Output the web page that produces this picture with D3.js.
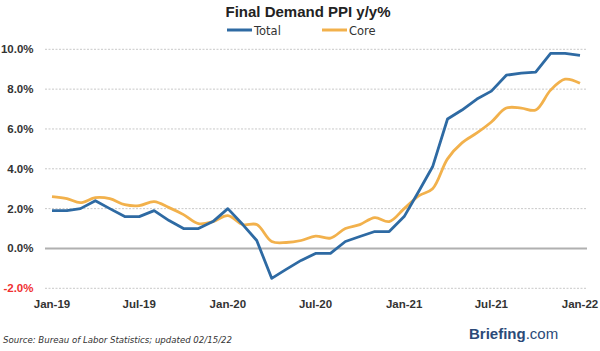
<!DOCTYPE html>
<html>
<head>
<meta charset="utf-8">
<script src="https://cdn.jsdelivr.net/npm/d3@7"></script>
<style>
  body { margin: 0; background: #fff; }
  svg { display: block; font-family: "DejaVu Sans", Verdana, sans-serif; }
</style>
</head>
<body>
<div id="chart"></div>
<script>
// monthly, Jan-19 .. Jan-22
const months = d3.range(37).map(i => new Date(2019, i, 1));
const totalValues = [1.9, 1.9, 2.0, 2.4, 2.0, 1.6, 1.6, 1.9, 1.4, 1.0, 1.0, 1.35,
  2.0, 1.2, 0.4, -1.5, -1.05, -0.6, -0.25, -0.25, 0.35, 0.6, 0.85, 0.85,
  1.6, 2.9, 4.1, 6.5, 6.95, 7.5, 7.9, 8.7, 8.8, 8.85, 9.8, 9.8, 9.7];
const coreValues = [2.6, 2.5, 2.3, 2.55, 2.5, 2.2, 2.15, 2.35, 2.05, 1.7, 1.25, 1.35,
  1.65, 1.2, 1.2, 0.35, 0.3, 0.4, 0.62, 0.52, 1.0, 1.2, 1.55, 1.35,
  2.0, 2.65, 3.0, 4.5, 5.3, 5.8, 6.35, 7.05, 7.05, 6.95, 7.95, 8.5, 8.3];
const yTicks = [-2, 0, 2, 4, 6, 8, 10];
const xTickLabels = ["Jan-19", "Jul-19", "Jan-20", "Jul-20", "Jan-21", "Jul-21", "Jan-22"];

const width = 600, height = 351;
const svg = d3.select("#chart").append("svg")
  .attr("width", width).attr("height", height);

const sans = "'Liberation Sans', Arial, sans-serif";

const x = d3.scaleTime()
  .domain([months[0], months[36]])
  .range([52, 580]);
const y = d3.scaleLinear()
  .domain([-2, 10])
  .range([288.3, 49.3]);

// title
svg.append("text")
  .attr("x", 308).attr("y", 17)
  .attr("text-anchor", "middle")
  .style("font-family", sans)
  .style("font-weight", "bold").style("font-size", "15px")
  .attr("fill", "#222")
  .text("Final Demand PPI y/y%");

// legend
const legend = [
  { name: "Total", color: "#2e6aa3", x0: 227 },
  { name: "Core", color: "#f2b14c", x0: 322 }
];
legend.forEach(l => {
  svg.append("line")
    .attr("x1", l.x0).attr("x2", l.x0 + 25)
    .attr("y1", 30).attr("y2", 30)
    .attr("stroke", l.color).attr("stroke-width", 3);
  svg.append("text")
    .attr("x", l.x0 + 27).attr("y", 34.5)
    .style("font-size", "11.5px").attr("fill", "#333")
    .text(l.name);
});

// gridlines
svg.append("g")
  .selectAll("line")
  .data(yTicks)
  .join("line")
  .attr("x1", 45).attr("x2", 587)
  .attr("y1", d => y(d)).attr("y2", d => y(d))
  .attr("stroke", d => d === 0 ? "#b0b0b0" : "#c8c8c8")
  .attr("stroke-width", d => d === 0 ? 2 : 1)
  .attr("stroke-dasharray", d => d === 0 ? null : "2,1.5");

// y axis labels
svg.append("g")
  .selectAll("text")
  .data(yTicks)
  .join("text")
  .attr("x", 33.5).attr("y", d => y(d) + 4)
  .attr("text-anchor", "end")
  .style("font-family", sans).style("font-weight", "bold")
  .style("font-size", "11.5px")
  .attr("fill", d => d < 0 ? "#f03030" : "#333")
  .text(d => d.toFixed(1) + "%");

// x axis labels
const xTicks = d3.range(0, 37, 6).map(i => months[i]);
svg.append("g")
  .selectAll("text")
  .data(xTicks)
  .join("text")
  .attr("x", d => x(d)).attr("y", 308)
  .attr("text-anchor", "middle")
  .style("font-family", sans).style("font-weight", "bold")
  .style("font-size", "11.5px").attr("fill", "#333")
  .text((d, i) => xTickLabels[i]);

// lines
const coreLine = d3.line()
  .x((d, i) => x(months[i]))
  .y(d => y(d))
  .curve(d3.curveCatmullRom.alpha(0.5));
const totalLine = d3.line()
  .x((d, i) => x(months[i]))
  .y(d => y(d));

svg.append("path")
  .attr("d", coreLine(coreValues))
  .attr("fill", "none").attr("stroke", "#f2b14c")
  .attr("stroke-width", 2.8).attr("stroke-linejoin", "round");
svg.append("path")
  .attr("d", totalLine(totalValues))
  .attr("fill", "none").attr("stroke", "#2e6aa3")
  .attr("stroke-width", 2.8).attr("stroke-linejoin", "round");

// footer
svg.append("text")
  .attr("x", 3).attr("y", 343)
  .style("font-size", "8.6px").style("font-style", "italic")
  .attr("fill", "#333")
  .text("Source: Bureau of Labor Statistics; updated 02/15/22");

const brand = svg.append("text")
  .attr("x", 469).attr("y", 339)
  .style("font-family", sans)
  .style("font-size", "15px").attr("fill", "#2b4a78");
brand.append("tspan").style("font-weight", "bold").text("Briefing");
brand.append("tspan").text(".com");
</script>
</body>
</html>
